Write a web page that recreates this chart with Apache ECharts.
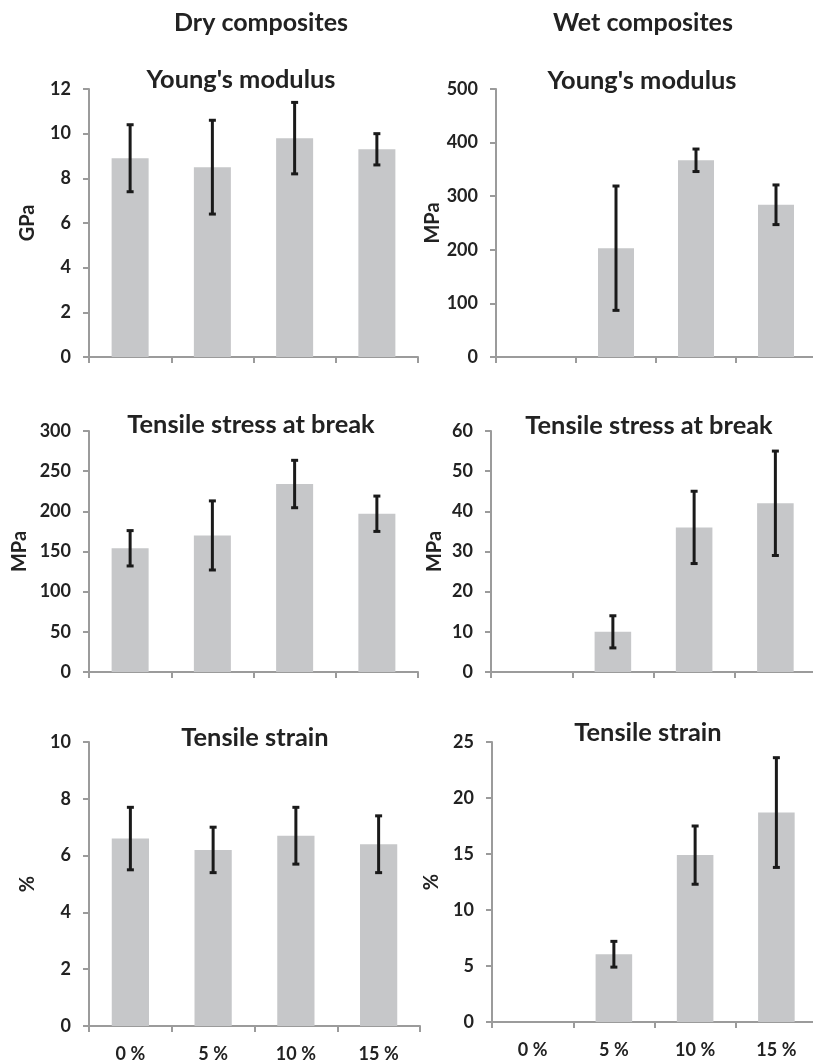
<!DOCTYPE html>
<html>
<head>
<meta charset="utf-8">
<script src="https://cdn.jsdelivr.net/npm/echarts@6/dist/echarts.min.js"></script>
<style>
  html, body { margin: 0; padding: 0; background: #ffffff; }
  #chart { width: 813px; height: 1061px; }
</style>
</head>
<body>
<div id="chart"></div>
<script>
// ---- data ----
var categories = ['0 %', '5 %', '10 %', '15 %'];

var dryModulus    = [8.9, 8.5, 9.8, 9.3];
var dryModulusSd  = [1.5, 2.1, 1.6, 0.7];
var wetModulus    = [null, 203, 367, 284];
var wetModulusSd  = [null, 116, 21, 37];

var dryStress     = [154, 170, 234, 197];
var dryStressSd   = [22, 43, 29.5, 22];
var wetStress     = [null, 10, 36, 42];
var wetStressSd   = [null, 4, 9, 13];

var dryStrain     = [6.6, 6.2, 6.7, 6.4];
var dryStrainSd   = [1.1, 0.8, 1.0, 1.0];
var wetStrain     = [null, 6.05, 14.9, 18.7];
var wetStrainSd   = [null, 1.15, 2.6, 4.9];

var columnTitles = ['Dry composites', 'Wet composites'];
var panelTitles  = ["Young's modulus", 'Tensile stress at break', 'Tensile strain'];
var unitNames    = ['GPa', 'MPa', 'MPa', 'MPa', '%', '%'];
var yMax         = [12, 500, 300, 60, 10, 25];
var yStep        = [2, 100, 50, 10, 2, 5];

// ---- layout ----
var FONT = 'Lato, "Open Sans", sans-serif';
var TEXT = '#222222';
var AXIS = '#9b9b9b';
var BAR = '#c6c7c9';

// fit the title font so its width matches the reference widths
function measure(text, size) {
  var c = document.createElement('canvas').getContext('2d');
  c.font = 'bold ' + size + 'px ' + FONT;
  return c.measureText(text).width;
}
var titleTargets = [["Young's modulus", 190], ['Tensile stress at break', 248], ['Tensile strain', 146]];
var fitSum = 0;
titleTargets.forEach(function (t) { fitSum += t[1] / measure(t[0], 100) * 100; });
var titleSize = Math.round(fitSum / titleTargets.length * 10) / 10;
var headSize = Math.round(174 / measure(columnTitles[0], 100) * 1000) / 10;

var panels = [
  { means: dryModulus, sd: dryModulusSd, grid: { left: 89,  top: 89,  width: 329, height: 268 }, nameGap: 51, title: [241, 80] },
  { means: wetModulus, sd: wetModulusSd, grid: { left: 496, top: 89,  width: 320, height: 268 }, nameGap: 53, title: [642, 81] },
  { means: dryStress,  sd: dryStressSd,  grid: { left: 89,  top: 431, width: 329, height: 241 }, nameGap: 59, title: [251, 425] },
  { means: wetStress,  sd: wetStressSd,  grid: { left: 491, top: 431, width: 325, height: 241 }, nameGap: 46, title: [649, 426] },
  { means: dryStrain,  sd: dryStrainSd,  grid: { left: 89,  top: 742, width: 331, height: 284 }, nameGap: 51, title: [255, 738] },
  { means: wetStrain,  sd: wetStrainSd,  grid: { left: 492, top: 742, width: 325, height: 280 }, nameGap: 50, title: [648, 733] }
];

function errRender(params, api) {
  var i = api.value(0);
  var pHi = api.coord([i, api.value(2)]);
  var pLo = api.coord([i, api.value(1)]);
  var w = 3.5;
  var st = { stroke: '#1a1a1a', lineWidth: 3 };
  return {
    type: 'group',
    children: [
      { type: 'line', shape: { x1: pHi[0], y1: pHi[1], x2: pLo[0], y2: pLo[1] }, style: st },
      { type: 'line', shape: { x1: pHi[0] - w, y1: pHi[1], x2: pHi[0] + w, y2: pHi[1] }, style: st },
      { type: 'line', shape: { x1: pLo[0] - w, y1: pLo[1], x2: pLo[0] + w, y2: pLo[1] }, style: st }
    ]
  };
}

var grids = [], xAxes = [], yAxes = [], series = [], graphics = [];

panels.forEach(function (p, k) {
  var isBottom = k >= 4;
  grids.push(Object.assign({ containLabel: false, outerBoundsMode: 'none' }, p.grid));
  xAxes.push({
    type: 'category',
    gridIndex: k,
    data: categories,
    boundaryGap: true,
    axisLine: { show: true, lineStyle: { color: AXIS, width: 2 } },
    axisTick: { show: true, length: 6, alignWithLabel: false, lineStyle: { color: AXIS, width: 2 } },
    axisLabel: {
      show: isBottom, margin: 19, color: TEXT, fontFamily: FONT, fontWeight: 'bold', fontSize: 18
    },
    splitLine: { show: false }
  });
  yAxes.push({
    type: 'value',
    gridIndex: k,
    min: 0,
    max: yMax[k],
    interval: yStep[k],
    name: unitNames[k],
    nameLocation: 'middle',
    nameRotate: 90,
    nameGap: p.nameGap,
    nameTextStyle: { color: TEXT, fontFamily: FONT, fontWeight: 'bold', fontSize: 20 },
    axisLine: { show: true, lineStyle: { color: AXIS, width: 2 } },
    axisTick: { show: true, length: 6, lineStyle: { color: AXIS, width: 2 } },
    axisLabel: { margin: 18, color: TEXT, fontFamily: FONT, fontWeight: 'bold', fontSize: 18 },
    splitLine: { show: false }
  });
  series.push({
    type: 'bar',
    xAxisIndex: k,
    yAxisIndex: k,
    data: p.means.map(function (v) { return v == null ? '-' : v; }),
    barWidth: '45%',
    itemStyle: { color: BAR },
    silent: true
  });
  var errData = [];
  p.means.forEach(function (m, i) {
    if (m != null) errData.push([i, m - p.sd[i], m + p.sd[i]]);
  });
  series.push({
    type: 'custom',
    xAxisIndex: k,
    yAxisIndex: k,
    renderItem: errRender,
    encode: { x: 0, y: [1, 2] },
    data: errData,
    z: 5,
    silent: true
  });
  graphics.push({
    type: 'text',
    x: p.title[0],
    y: p.title[1],
    style: {
      text: panelTitles[Math.floor(k / 2)],
      fill: TEXT,
      font: 'bold ' + titleSize + 'px ' + FONT,
      textAlign: 'center',
      textVerticalAlign: 'middle'
    }
  });
});

graphics.push({
  type: 'text', x: 261, y: 23,
  style: { text: columnTitles[0], fill: TEXT, font: 'bold ' + headSize + 'px ' + FONT, textAlign: 'center', textVerticalAlign: 'middle' }
});
graphics.push({
  type: 'text', x: 643, y: 23,
  style: { text: columnTitles[1], fill: TEXT, font: 'bold ' + headSize + 'px ' + FONT, textAlign: 'center', textVerticalAlign: 'middle' }
});

var chart = echarts.init(document.getElementById('chart'), null, { renderer: 'canvas' });
chart.setOption({
  backgroundColor: '#ffffff',
  animation: false,
  grid: grids,
  xAxis: xAxes,
  yAxis: yAxes,
  series: series,
  graphic: graphics
});
</script>
</body>
</html>
